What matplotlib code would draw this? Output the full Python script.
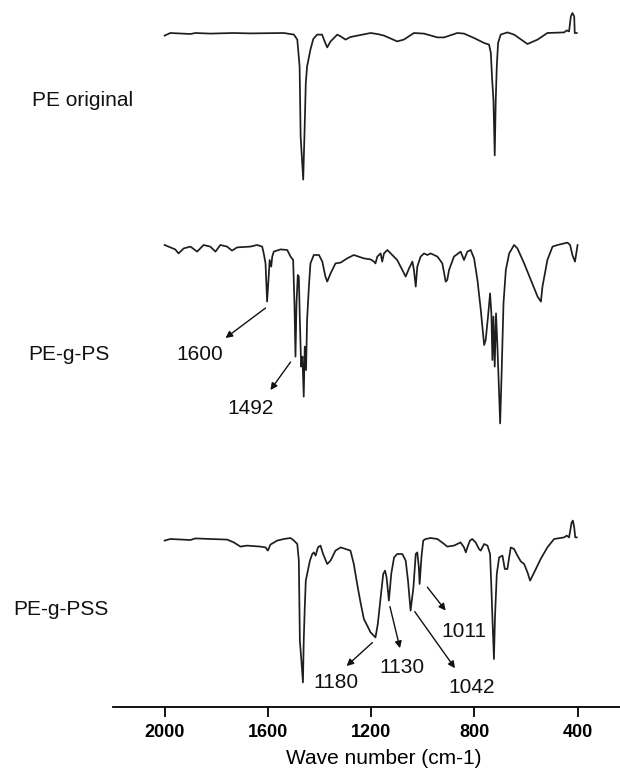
import matplotlib.pyplot as plt

# FTIR spectra (wavenumber in cm-1, relative transmittance in %)
pe_wn = [2000, 1978, 1900, 1881, 1823, 1732, 1668, 1538, 1499, 1486, 1477, 1473,
         1463, 1458, 1453, 1448, 1435, 1424, 1409, 1390, 1380, 1370, 1357, 1331,
         1318, 1299, 1280, 1202, 1176, 1150, 1099, 1073, 1034, 995, 943, 917, 866,
         840, 801, 762, 743, 736, 731, 726, 721, 717, 713, 708, 698, 672, 646, 594,
         555, 517, 452, 442, 433, 426, 420, 413, 411, 403]
pe_t = [98.7, 100, 99.5, 100, 99.7, 100, 99.8, 100, 99.2, 96.7, 83.3, 48.3,
        26.7, 50, 75, 83.3, 91.7, 97, 99.2, 99.2, 95.8, 92.8, 95.8, 99.2,
        98.3, 96.7, 98, 100, 99.5, 98.7, 95.8, 96.7, 100, 99.7, 97.8, 97.8, 100,
        99.7, 97.5, 95, 94.2, 90, 76.7, 66.7, 38.8, 66.7, 83.3, 95, 99.2, 100.3, 99.2, 94.5,
        96.7, 100, 100.3, 101.3, 100.8, 108.3, 110, 108.3, 100, 100]

ps_wn = [2000, 1959, 1946, 1926, 1900, 1874, 1849, 1823, 1803, 1784, 1758, 1739,
         1719, 1668, 1642, 1622, 1616, 1609, 1603, 1596, 1593, 1587, 1583, 1577,
         1551, 1525, 1512, 1502, 1497, 1493, 1489, 1484, 1480, 1476, 1471, 1466,
         1461, 1457, 1452, 1448, 1441, 1435, 1422, 1402, 1389, 1377, 1370, 1357,
         1338, 1318, 1293, 1267, 1228, 1202, 1189, 1183, 1176, 1163, 1157, 1150,
         1137, 1124, 1099, 1079, 1066, 1053, 1040, 1034, 1027, 1021, 1008, 995,
         982, 969, 956, 943, 924, 911, 905, 898, 879, 853, 840, 827, 814, 801,
         788, 775, 762, 756, 747, 739, 734, 730, 726, 721, 716, 711, 704, 700,
         695, 687, 678, 665, 646, 633, 607, 581, 555, 542, 536, 517, 497, 478,
         452, 439, 429, 420, 410, 405, 400]
ps_t = [100, 97.8, 95.8, 98.3, 99.2, 96.7, 100, 99.2, 96.7, 100, 99.2, 97.2,
        98.8, 99.2, 100, 99.2, 95.8, 90.8, 71.7, 85.8, 92.5, 89.2, 94.2, 96.7,
        97.8, 97.5, 94.2, 92.5, 70.8, 44.2, 70.8, 85, 84.2, 62.5, 39.2, 44.2,
        24.2, 49.2, 37.5, 62.5, 79.2, 90.8, 95, 95, 91.7, 84.2, 81.7, 85.8,
        90.8, 91.2, 93.3, 95, 93.3, 92.8, 91.7, 90.8, 94.2, 95.8, 91.7, 95.8,
        97.5, 95.8, 92.5, 87.5, 84.2, 88.3, 91.7, 87.5, 79.2, 89.2, 94.2, 95.8,
        95, 95.8, 95, 94.2, 90.8, 81.7, 82.5, 87.5, 94.2, 96.7, 92.5, 96.7, 97.5, 93.3,
        82.5, 67.5, 50, 52.5, 64.2, 75.8, 65.8, 42.5, 64.2, 39.2, 65.8, 50.8, 25.8, 10.8,
        32.5, 70.8, 87.5, 95.8, 100, 98.3, 90.8, 82.5, 74.2, 71.7, 79.2, 92.5, 99.2, 100,
        100.8, 101.2, 100, 95, 91.7, 95.8, 100]

pss_wn = [2000, 1978, 1900, 1881, 1823, 1758, 1732, 1706, 1680, 1629, 1609, 1600,
          1590, 1564, 1538, 1512, 1499, 1486, 1480, 1476, 1471, 1464, 1461, 1457,
          1453, 1445, 1437, 1428, 1422, 1415, 1406, 1396, 1386, 1370, 1357, 1338,
          1318, 1299, 1280, 1267, 1254, 1241, 1228, 1215, 1202, 1183, 1174, 1163,
          1153, 1146, 1140, 1131, 1122, 1111, 1099, 1079, 1066, 1057, 1047, 1036,
          1027, 1021, 1015, 1012, 1005, 998, 989, 969, 943, 917, 905, 879, 853,
          840, 833, 827, 817, 808, 795, 782, 775, 762, 749, 739, 734, 730, 724,
          720, 713, 704, 691, 682, 672, 659, 646, 633, 620, 607, 594, 584, 568,
          543, 517, 491, 452, 442, 433, 423, 418, 413, 409, 403]
pss_t = [99.2, 100, 99.5, 100.3, 100, 99.7, 98.3, 96.2, 96.7, 96.2, 95.8, 94.2,
         97.2, 99.2, 100, 100.5, 99.2, 97.5, 89.2, 49.2, 40.8, 28.3, 49.2, 65.8,
         79.2, 84.2, 89.2, 92.5, 93.3, 91.7, 95.8, 96.7, 92.5, 87.5, 89.2, 94.2,
         95.8, 95, 94.2, 87.5, 77.5, 68.3, 60, 56.7, 53.3, 50.8, 57.5, 70.8,
         82.5, 84.2, 80.8, 69.2, 82.5, 90.8, 92.5, 92.5, 89.2, 79.2, 64.2, 75.8,
         92.5, 93.3, 85.8, 77.5, 90.8, 99.2, 100, 100.5, 100, 97.5, 96.2, 96.7, 98.3,
         95.8, 93.3, 95.8, 99.2, 100, 98.3, 95, 94.2, 97.5, 96.7, 92.5, 75.8, 60.8, 40,
         60.8, 82.5, 90.8, 91.7, 85, 85, 95.8, 95, 91.7, 88.8, 87.5, 83.3, 79.2, 83.3,
         90, 95.8, 100, 100.8, 101.7, 100.8, 108.3, 109.2, 105.8, 100.8, 100.8]

samples = ["PE original", "PE-g-PS", "PE-g-PSS"]
offsets = [237, 131, -16]

# peak labels with arrow start/end and text spot (wn, y)
peak_labels = ["1600", "1492", "1180", "1130", "1042", "1011"]
arrow_from = [(1609, 199.5), (1512, 172.5), (1195, 32.2), (1127, 50.2), (1031, 47.7), (982, 59.9)]
arrow_to = [(1764, 184.5), (1590, 158.5), (1295, 20.5), (1088, 29.4), (875, 19.4), (911, 48.2)]
text_at = [(1863, 173.5), (1666, 146.5), (1338, 9.5), (1082, 17), (812, 7), (839, 35)]

plt.rcParams['font.family'] = ['Liberation Sans', 'DejaVu Sans']

fig = plt.figure(figsize=(6.2, 7.76), dpi=100)
# the x axis runs past the right edge of the picture (cropped figure)
ax = fig.add_axes([113 / 620, 1 - 707 / 776, 542 / 620, 707 / 776])

line_color = '#1e1e1e'
for wn, t, off in zip([pe_wn, ps_wn, pss_wn], [pe_t, ps_t, pss_t], offsets):
    ax.plot(wn, [off + v for v in t], color=line_color, lw=1.25,
            solid_joinstyle='round')

for lab, a0, a1, tp in zip(peak_labels, arrow_from, arrow_to, text_at):
    ax.annotate("", xy=a1, xytext=a0,
                arrowprops=dict(arrowstyle='-|>', color='#111111', lw=1.0,
                                mutation_scale=10, shrinkA=0, shrinkB=0))
    ax.text(tp[0], tp[1], lab, ha='center', va='baseline', fontsize=15, color='#111111')

# sample names on the left
label_pos = [(32, 106), (28, 360), (13, 615)]
for name, (px, py) in zip(samples, label_pos):
    fig.text(px / 620, 1 - py / 776, name, ha='left', va='baseline', fontsize=15, color='#111111')

ax.set_xlim(2200, 100)
ax.set_ylim(0, 353.5)
ax.set_xticks([2000, 1600, 1200, 800, 400])
ax.set_yticks([])
for s in ['top', 'left', 'right']:
    ax.spines[s].set_visible(False)
ax.spines['bottom'].set_linewidth(1.3)
ax.tick_params(axis='x', direction='out', length=7, width=1.3, pad=5, labelsize=13)
for lbl in ax.get_xticklabels():
    lbl.set_fontweight('bold')
ax.set_xlabel("Wave number (cm-1)", fontsize=15, labelpad=6)

fig.savefig('out.png', dpi=100)
